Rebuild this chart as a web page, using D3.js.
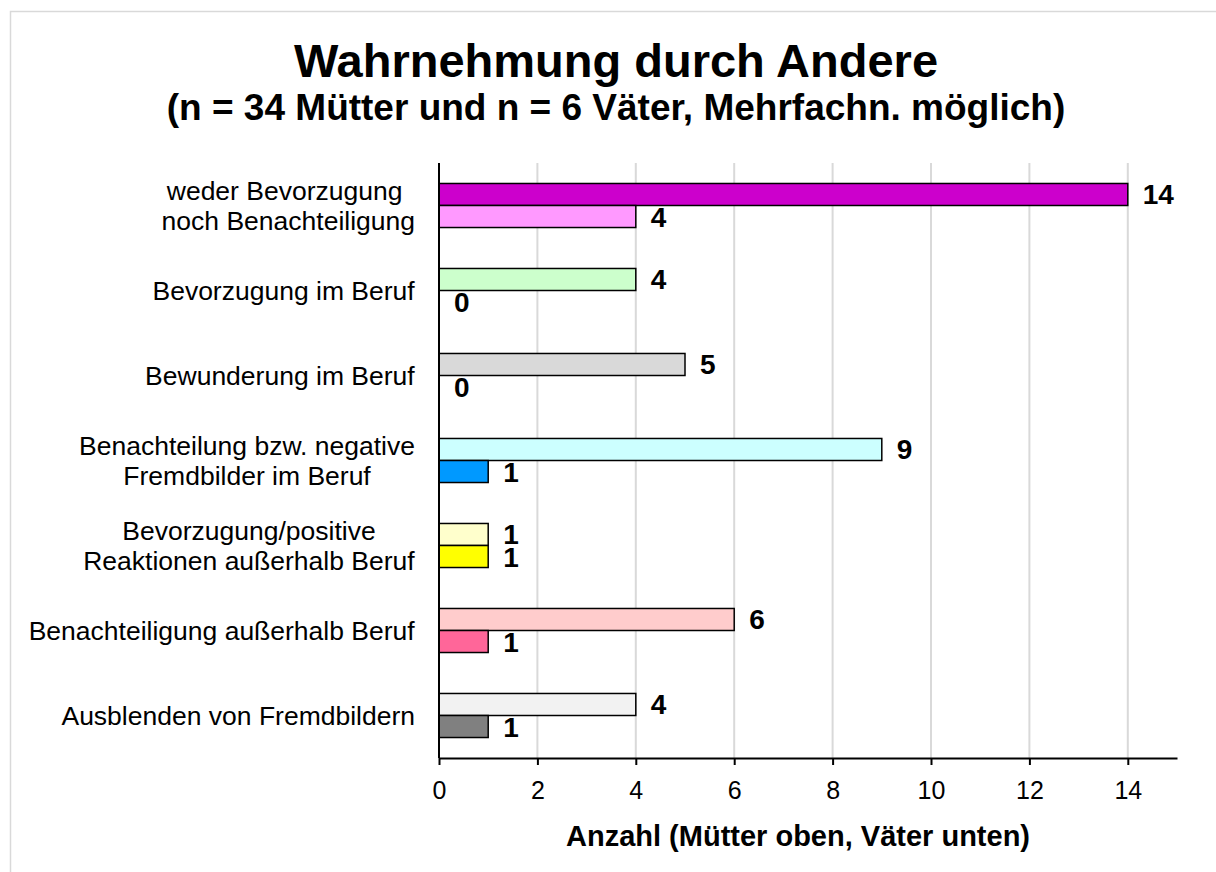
<!DOCTYPE html>
<html>
<head>
<meta charset="utf-8">
<script src="https://cdn.jsdelivr.net/npm/d3@7"></script>
<style>
  body { margin: 0; background: #fff; }
  svg { display: block; font-family: "Liberation Sans", Arial, sans-serif; }
</style>
</head>
<body>
<div id="chart-area"></div>
<script>
// data
const categories = [
  ["weder Bevorzugung ", "noch Benachteiligung"],
  ["Bevorzugung im Beruf"],
  ["Bewunderung im Beruf"],
  ["Benachteilung bzw. negative", "Fremdbilder im Beruf"],
  ["Bevorzugung/positive", "Reaktionen außerhalb Beruf"],
  ["Benachteiligung außerhalb Beruf"],
  ["Ausblenden von Fremdbildern"]
]
const muetter = [14, 4, 5, 9, 1, 6, 4]
const vaeter = [4, 0, 0, 1, 1, 1, 1]
const colorsMuetter = ["#CC00CC", "#CCFFCC", "#D9D9D9", "#CCFFFF", "#FFFFCC", "#FFCCCC", "#F2F2F2"]
const colorsVaeter = ["#FF99FF", "#FFFFFF", "#FFFFFF", "#0099FF", "#FFFF00", "#FF6699", "#808080"]
const xTicks = [0, 2, 4, 6, 8, 10, 12, 14]

const W = 1216, H = 872
const PLOT = { LEFT: 439, RIGHT: 1177, TOP: 163, BOTTOM: 758 }

const svg = d3.select("#chart-area").append("svg")
  .attr("width", W)
  .attr("height", H)

// frame
svg.append("rect")
  .attr("x", 10.5).attr("y", 11.5)
  .attr("width", W + 20).attr("height", H + 20)
  .attr("fill", "none")
  .attr("stroke", "#d9d9d9")
  .attr("stroke-width", 1.5)

// titles
svg.append("text")
  .attr("x", 616).attr("y", 77)
  .attr("text-anchor", "middle")
  .attr("font-size", "47px")
  .attr("font-weight", "bold")
  .text("Wahrnehmung durch Andere")

svg.append("text")
  .attr("x", 616).attr("y", 120)
  .attr("text-anchor", "middle")
  .attr("font-size", "37px")
  .attr("font-weight", "bold")
  .text("(n = 34 Mütter und n = 6 Väter, Mehrfachn. möglich)")

const keys = categories.map((c, i) => i)
const rows = keys.map(i => ({
  i: i,
  lines: categories[i],
  bars: [
    { s: "m", v: muetter[i], c: colorsMuetter[i] },
    { s: "f", v: vaeter[i], c: colorsVaeter[i] }
  ]
}))

const x = d3.scaleLinear()
  .domain([0, 15])
  .range([PLOT.LEFT, PLOT.RIGHT])

const y = d3.scaleBand()
  .domain(keys)
  .range([PLOT.TOP, PLOT.BOTTOM])
  .padding(0)

const y1 = d3.scaleBand()
  .domain(["m", "f"])
  .range([0, y.bandwidth()])
  .paddingInner(0)
  .paddingOuter(0.93)

// grid
svg.append("g")
  .selectAll("line")
  .data(xTicks.filter(d => d > 0))
  .enter().append("line")
    .attr("x1", d => x(d)).attr("x2", d => x(d))
    .attr("y1", PLOT.TOP).attr("y2", PLOT.BOTTOM)
    .attr("stroke", "#d9d9d9")
    .attr("stroke-width", 2)

// bars
const groups = svg.append("g")
  .selectAll("g")
  .data(rows)
  .enter().append("g")
    .attr("transform", d => `translate(0, ${y(d.i)})`)

groups.selectAll("rect")
  .data(d => d.bars.filter(b => b.v > 0))
  .enter().append("rect")
    .attr("x", x(0))
    .attr("y", b => y1(b.s))
    .attr("width", b => x(b.v) - x(0))
    .attr("height", y1.bandwidth())
    .attr("fill", b => b.c)
    .attr("stroke", "#000")
    .attr("stroke-width", 1.5)

groups.selectAll("text.val")
  .data(d => d.bars)
  .enter().append("text")
    .attr("class", "val")
    .attr("x", b => x(b.v) + 15)
    .attr("y", b => y1(b.s) + y1.bandwidth() / 2 + 10)
    .attr("font-size", "28px")
    .attr("font-weight", "bold")
    .text(b => b.v)

// axes
const xAxis = svg.append("g")
  .attr("transform", `translate(0, ${PLOT.BOTTOM})`)
  .call(d3.axisBottom(x).tickValues(xTicks).tickSize(7).tickSizeOuter(0).tickPadding(16))
xAxis.select(".domain").attr("stroke", "#000").attr("stroke-width", 2)
xAxis.selectAll(".tick line").attr("stroke", "#000").attr("stroke-width", 2)
xAxis.selectAll(".tick text")
  .attr("font-size", "25px")
  .attr("font-family", "Liberation Sans, Arial, sans-serif")
  .attr("fill", "#000")

svg.append("line")
  .attr("x1", x(0)).attr("x2", x(0))
  .attr("y1", PLOT.TOP).attr("y2", PLOT.BOTTOM)
  .attr("stroke", "#000")
  .attr("stroke-width", 2)

// category labels, each block centred and right aligned to the axis
const labels = svg.append("g")
  .selectAll("text")
  .data(rows)
  .enter().append("text")
    .attr("font-size", "26.5px")
    .attr("text-anchor", "middle")

labels.each(function(d) {
  const t = d3.select(this)
  const n = d.lines.length
  const cy = y(d.i) + y.bandwidth() / 2
  d.lines.forEach((ln, k) => {
    t.append("tspan")
      .attr("x", 0)
      .attr("y", cy + 9 + (k - (n - 1) / 2) * 30)
      .text(ln)
  })
  const w = this.getBBox().width
  t.selectAll("tspan").attr("x", 415 - w / 2)
})

// x label
svg.append("text")
  .attr("x", 798).attr("y", 846)
  .attr("text-anchor", "middle")
  .attr("font-size", "29px")
  .attr("font-weight", "bold")
  .text("Anzahl (Mütter oben, Väter unten)")
</script>
</body>
</html>
